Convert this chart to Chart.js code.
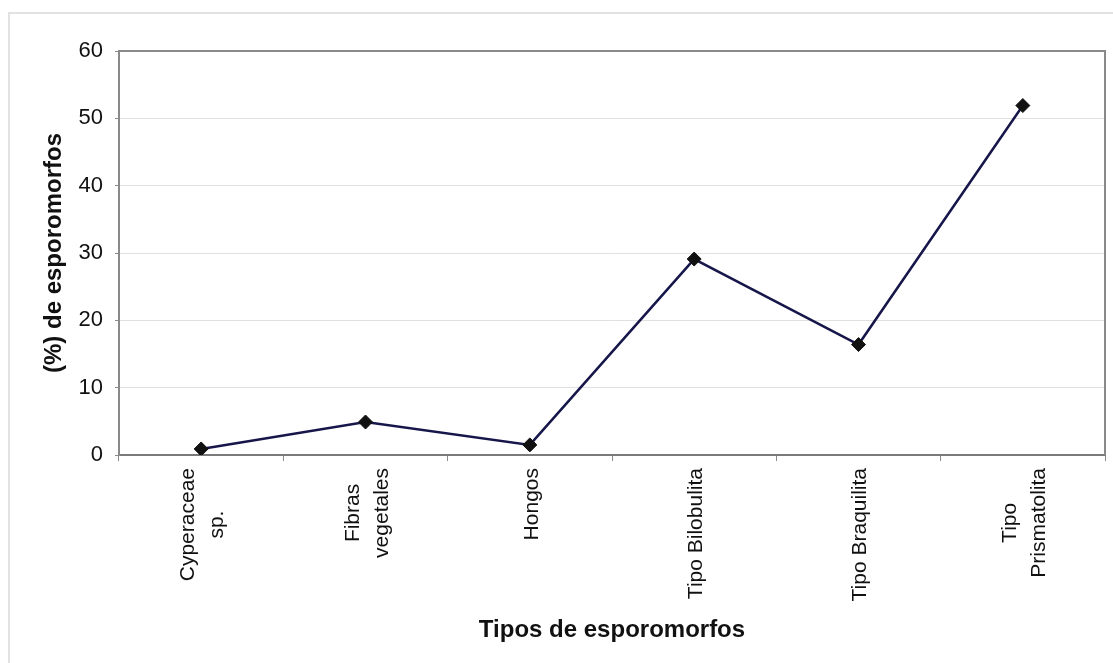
<!DOCTYPE html>
<html>
<head>
<meta charset="utf-8">
<script src="https://cdn.jsdelivr.net/npm/chart.js@4"></script>
<style>
  html, body { margin: 0; padding: 0; background: #fff; }
  #wrap { width: 1113px; height: 663px; position: relative; }
</style>
</head>
<body>
<div id="wrap"><canvas id="grafico" width="1113" height="663"></canvas></div>
<script>
// categorías y porcentajes
const categorias = [
    ['Cyperaceae', 'sp.'],
    ['Fibras', 'vegetales'],
    ['Hongos'],
    ['Tipo Bilobulita'],
    ['Tipo Braquilita'],
    ['Tipo', 'Prismatolita']
];
const porcentajes = [0.9, 4.9, 1.5, 29.1, 16.4, 51.9];
const yMin = 0;
const yMax = 60;
const yPaso = 10;
const tituloX = 'Tipos de esporomorfos';
const tituloY = '(%) de esporomorfos';

const fuente = "'Liberation Sans', Arial, sans-serif";
const tamEtiqueta = 21;
const altoLinea = 29;

// marco exterior, borde del área de trazado y etiquetas verticales centradas
const marcoPlugin = {
    id: 'marco',
    beforeDraw(chart) {
        const ctx = chart.ctx;
        ctx.save();
        ctx.strokeStyle = '#e2e2e2';
        ctx.lineWidth = 2;
        ctx.beginPath();
        ctx.moveTo(9, 663);
        ctx.lineTo(9, 13);
        ctx.lineTo(1113, 13);
        ctx.stroke();
        ctx.restore();
    },
    afterDatasetsDraw(chart) {
        const a = chart.chartArea;
        const ctx = chart.ctx;
        ctx.save();
        ctx.strokeStyle = '#8a8a8a';
        ctx.lineWidth = 2;
        ctx.beginPath();
        ctx.moveTo(a.left, a.top);
        ctx.lineTo(a.right, a.top);
        ctx.lineTo(a.right, a.bottom);
        ctx.stroke();
        ctx.restore();
    },
    afterDraw(chart) {
        const x = chart.scales.x;
        const ctx = chart.ctx;
        const arriba = chart.chartArea.bottom + 13;
        ctx.save();
        ctx.font = tamEtiqueta + 'px ' + fuente;
        ctx.fillStyle = '#111';
        ctx.textAlign = 'center';
        ctx.textBaseline = 'middle';
        categorias.forEach((lineas, i) => {
            const px = x.getPixelForTick(i) + 2;
            const ancho = Math.max(...lineas.map(l => ctx.measureText(l).width));
            const n = lineas.length;
            ctx.save();
            ctx.translate(px, arriba + ancho / 2);
            ctx.rotate(-Math.PI / 2);
            lineas.forEach((l, j) => {
                ctx.fillText(l, 0, (j - (n - 1) / 2) * altoLinea);
            });
            ctx.restore();
        });
        ctx.restore();
    }
};

new Chart(document.getElementById('grafico'), {
    type: 'line',
    data: {
        labels: categorias.map(l => l.join(' ')),
        datasets: [{
            data: porcentajes,
            borderColor: '#16164a',
            borderWidth: 2.5,
            pointStyle: 'rectRot',
            pointRadius: 7,
            pointBackgroundColor: '#111',
            pointBorderColor: '#111',
            pointBorderWidth: 1,
            tension: 0
        }]
    },
    options: {
        responsive: false,
        animation: false,
        layout: { padding: { left: 10, right: 8, top: 51, bottom: 0 } },
        plugins: {
            legend: { display: false },
            tooltip: { enabled: false }
        },
        scales: {
            x: {
                offset: true,
                grid: {
                    offset: true,
                    drawOnChartArea: false,
                    tickLength: 6,
                    tickColor: '#8a8a8a'
                },
                border: { color: '#7a7a7a', width: 2 },
                ticks: { display: false },
                title: {
                    display: true,
                    text: tituloX,
                    color: '#111',
                    font: { family: fuente, size: 24, weight: 'bold' },
                    padding: { top: 0, bottom: 18 }
                },
                afterFit(scale) { scale.height = 208; }
            },
            y: {
                min: yMin,
                max: yMax,
                ticks: {
                    stepSize: yPaso,
                    padding: 12,
                    color: '#111',
                    font: { family: fuente, size: 22 }
                },
                grid: {
                    color: '#e0e0e0',
                    lineWidth: 1,
                    tickLength: 4,
                    tickColor: '#8a8a8a'
                },
                border: { color: '#8a8a8a', width: 2 },
                title: {
                    display: true,
                    text: tituloY,
                    color: '#111',
                    font: { family: fuente, size: 24, weight: 'bold' },
                    padding: { top: 30, bottom: 0 }
                },
                afterFit(scale) { scale.width = 109; }
            }
        }
    },
    plugins: [marcoPlugin]
});
</script>
</body>
</html>
